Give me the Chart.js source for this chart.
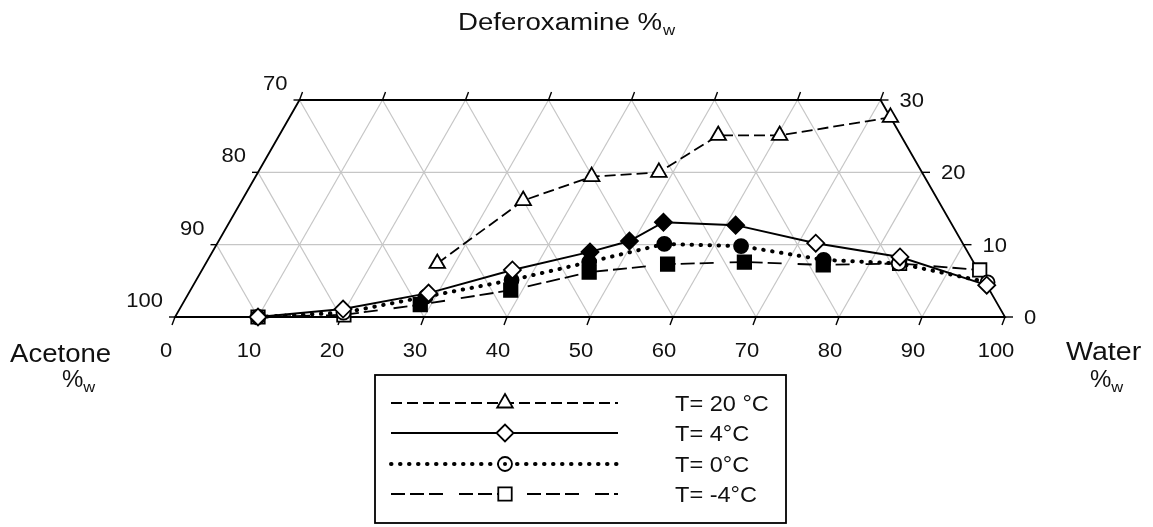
<!DOCTYPE html>
<html>
<head>
<meta charset="utf-8">
<script src="https://cdn.jsdelivr.net/npm/chart.js@4.4.0/dist/chart.umd.min.js"></script>
<style>
  body { margin: 0; background: #fff; }
</style>
</head>
<body>
<canvas id="myChart" width="1153" height="527"></canvas>
<script>
// ternary axes (truncated at 30 % deferoxamine)
const waterTicks = [0, 10, 20, 30, 40, 50, 60, 70, 80, 90, 100];
const deferoxTicks = [0, 10, 20, 30];
const acetoneTicks = [100, 90, 80, 70];
const legendLabels = ['T= 20 °C', 'T= 4°C', 'T= 0°C', 'T= -4°C'];

// compositions: water %w and deferoxamine %w
const t20Water = [27.9, 33.9, 40.5, 48.3, 52.9, 60.3, 72.4];
const t20Defer = [7.4, 16.1, 19.4, 20.0, 25.1, 25.1, 27.6];
const t20Filled = [0, 0, 0, 0, 0, 0, 0];

const t4Water = [10, 19.7, 28.9, 37.4, 45.5, 49.5, 52.3, 61.2, 72.1, 83.2, 95.6];
const t4Defer = [0, 1.1, 3.3, 6.5, 9.0, 10.5, 13.1, 12.7, 10.2, 8.3, 4.4];
const t4Filled = [0, 0, 0, 0, 1, 1, 1, 1, 0, 0, 0];

const t0Water = [10, 20.0, 28.8, 38.0, 46.1, 53.9, 63.3, 74.2, 83.5, 95.5];
const t0Defer = [0, 0.6, 2.8, 5.1, 7.6, 10.1, 9.8, 7.9, 7.4, 4.8];
const t0Filled = [0, 0, 1, 1, 1, 1, 1, 1, 0, 0];

const tm4Water = [10, 20.2, 28.7, 38.6, 46.8, 55.7, 64.8, 74.5, 83.6, 93.7];
const tm4Defer = [0, 0.3, 1.7, 3.7, 6.2, 7.3, 7.6, 7.2, 7.4, 6.5];
const tm4Filled = [0, 0, 1, 1, 1, 1, 1, 1, 0, 0];

const FONT = '"Liberation Sans", Arial, sans-serif';

// ternary -> cartesian (x along the water edge, y = deferoxamine height)
function toXY(water, defer) {
    return water.map((w, i) => ({ x: w + defer[i] / 2, y: defer[i] }));
}
function fills(flags) {
    return flags.map(f => f ? '#000' : '#fff');
}

const styles = [
    { dash: [11, 5], width: 1.8, cap: 'butt', point: 'triangle', radius: 9 },
    { dash: [], width: 2, cap: 'butt', point: 'rectRot', radius: 8.5 },
    { dash: [0.5, 8.5], width: 4, cap: 'round', point: 'circle', radius: 7 },
    { dash: [14, 5, 14, 5, 14, 16], width: 1.8, cap: 'butt', point: 'rect', radius: 9.5 }
];

function makeSet(label, water, defer, filled, st) {
    return {
        label: label,
        data: toXY(water, defer),
        showLine: true,
        borderColor: '#000',
        borderWidth: st.width,
        borderDash: st.dash,
        borderCapStyle: st.cap,
        pointStyle: st.point,
        pointRadius: st.radius,
        pointBorderWidth: 1.8,
        pointBorderColor: '#000',
        pointBackgroundColor: fills(filled),
        clip: false
    };
}

function P(chart, w, d) {
    return [chart.scales.x.getPixelForValue(w + d / 2), chart.scales.y.getPixelForValue(d)];
}

function seg(ctx, a, b) {
    ctx.beginPath();
    ctx.moveTo(a[0], a[1]);
    ctx.lineTo(b[0], b[1]);
    ctx.stroke();
}

function txt(ctx, s, x, y, size, align, sx) {
    ctx.save();
    ctx.font = size + 'px ' + FONT;
    ctx.textAlign = 'left';
    ctx.textBaseline = 'alphabetic';
    const w = ctx.measureText(s).width * sx;
    let left = x;
    if (align === 'center') left = x - w / 2;
    if (align === 'right') left = x - w;
    ctx.translate(left, y);
    ctx.scale(sx, 1);
    ctx.fillText(s, 0, 0);
    ctx.restore();
    return left + w;
}

const ternaryFrame = {
    id: 'ternaryFrame',
    beforeDatasetsDraw(chart) {
        const ctx = chart.ctx;
        const dMax = deferoxTicks[deferoxTicks.length - 1];
        ctx.save();
        // grey grid
        ctx.strokeStyle = '#c6c6c6';
        ctx.lineWidth = 1.2;
        waterTicks.slice(1, -1).forEach(k => {
            // constant water
            seg(ctx, P(chart, k, 0), P(chart, k, Math.min(dMax, 100 - k)));
            // constant acetone (a = 100 - k)
            const top = Math.min(dMax, k);
            seg(ctx, P(chart, k, 0), P(chart, k - top, top));
        });
        deferoxTicks.slice(1, -1).forEach(d => {
            seg(ctx, P(chart, 0, d), P(chart, 100 - d, d));
        });
        // black outline
        ctx.strokeStyle = '#000';
        ctx.lineWidth = 1.8;
        ctx.beginPath();
        const c = [P(chart, 0, 0), P(chart, 100, 0), P(chart, 100 - dMax, dMax), P(chart, 0, dMax)];
        ctx.moveTo(c[0][0], c[0][1]);
        c.slice(1).forEach(p => ctx.lineTo(p[0], p[1]));
        ctx.closePath();
        ctx.stroke();
        // ticks
        ctx.lineWidth = 1.4;
        waterTicks.forEach(w => {
            const b = P(chart, w, 0);
            seg(ctx, b, [b[0] - 3, b[1] + 8]);
            if (w <= 100 - dMax) {
                const t = P(chart, w, dMax);
                seg(ctx, t, [t[0] + 3, t[1] - 8]);
            }
        });
        deferoxTicks.forEach(d => {
            const l = P(chart, 0, d);
            seg(ctx, l, [l[0] - 6, l[1]]);
            const r = P(chart, 100 - d, d);
            seg(ctx, r, [r[0] + 8, r[1]]);
        });
        ctx.restore();
    },
    afterDraw(chart) {
        const ctx = chart.ctx;
        ctx.save();
        ctx.fillStyle = '#111';
        // tick labels
        waterTicks.forEach(w => {
            const b = P(chart, w, 0);
            txt(ctx, String(w), b[0] - 9, b[1] + 40, 20, 'center', 1.1);
        });
        acetoneTicks.forEach(a => {
            const l = P(chart, 0, 100 - a);
            txt(ctx, String(a), l[0] - 12, l[1] - 10, 20, 'right', 1.1);
        });
        deferoxTicks.forEach(d => {
            const r = P(chart, 100 - d, d);
            txt(ctx, String(d), r[0] + 19, r[1] + 7, 20, 'left', 1.1);
        });
        // axis names
        let e = txt(ctx, 'Deferoxamine %', 458, 30, 23, 'left', 1.2);
        txt(ctx, 'w', e + 1, 35, 14, 'left', 1.2);
        txt(ctx, 'Acetone', 10, 362, 26, 'left', 1.06);
        e = txt(ctx, '%', 62, 387, 24, 'left', 1.0);
        txt(ctx, 'w', e, 392, 15, 'left', 1.1);
        txt(ctx, 'Water', 1066, 360, 26, 'left', 1.1);
        e = txt(ctx, '%', 1090, 387, 24, 'left', 1.0);
        txt(ctx, 'w', e, 392, 15, 'left', 1.1);

        // legend box
        ctx.strokeStyle = '#000';
        ctx.lineWidth = 1.8;
        ctx.strokeRect(375, 375, 411, 148);
        const rows = [403, 433, 464, 494];
        styles.forEach((st, i) => {
            const y = rows[i];
            ctx.save();
            ctx.strokeStyle = '#000';
            ctx.lineWidth = st.width;
            ctx.lineCap = st.cap;
            ctx.setLineDash(st.dash);
            ctx.beginPath();
            ctx.moveTo(391, y);
            ctx.lineTo(618, y);
            ctx.stroke();
            ctx.setLineDash([]);
            ctx.lineWidth = 1.8;
            ctx.fillStyle = '#fff';
            Chart.helpers.drawPoint(ctx, { pointStyle: st.point, radius: st.radius, rotation: 0, borderWidth: 1.8 }, 505, y);
            if (st.point === 'circle') {
                ctx.fillStyle = '#000';
                ctx.beginPath();
                ctx.arc(505, y, 2, 0, Math.PI * 2);
                ctx.fill();
            }
            ctx.restore();
            ctx.fillStyle = '#111';
            txt(ctx, legendLabels[i], 675, y + 8, 22, 'left', 1.07);
        });
        ctx.restore();
    }
};

const ctx = document.getElementById('myChart').getContext('2d');
const myChart = new Chart(ctx, {
    type: 'scatter',
    data: {
        datasets: [
            makeSet(legendLabels[0], t20Water, t20Defer, t20Filled, styles[0]),
            makeSet(legendLabels[1], t4Water, t4Defer, t4Filled, styles[1]),
            makeSet(legendLabels[2], t0Water, t0Defer, t0Filled, styles[2]),
            makeSet(legendLabels[3], tm4Water, tm4Defer, tm4Filled, styles[3])
        ]
    },
    options: {
        responsive: false,
        animation: false,
        devicePixelRatio: 1,
        layout: { padding: { left: 175, right: 148, top: 100, bottom: 210 } },
        scales: {
            x: { type: 'linear', min: 0, max: 100, display: false },
            y: { type: 'linear', min: 0, max: 30, display: false }
        },
        plugins: {
            legend: { display: false },
            tooltip: { enabled: false }
        }
    },
    plugins: [ternaryFrame]
});
</script>
</body>
</html>
